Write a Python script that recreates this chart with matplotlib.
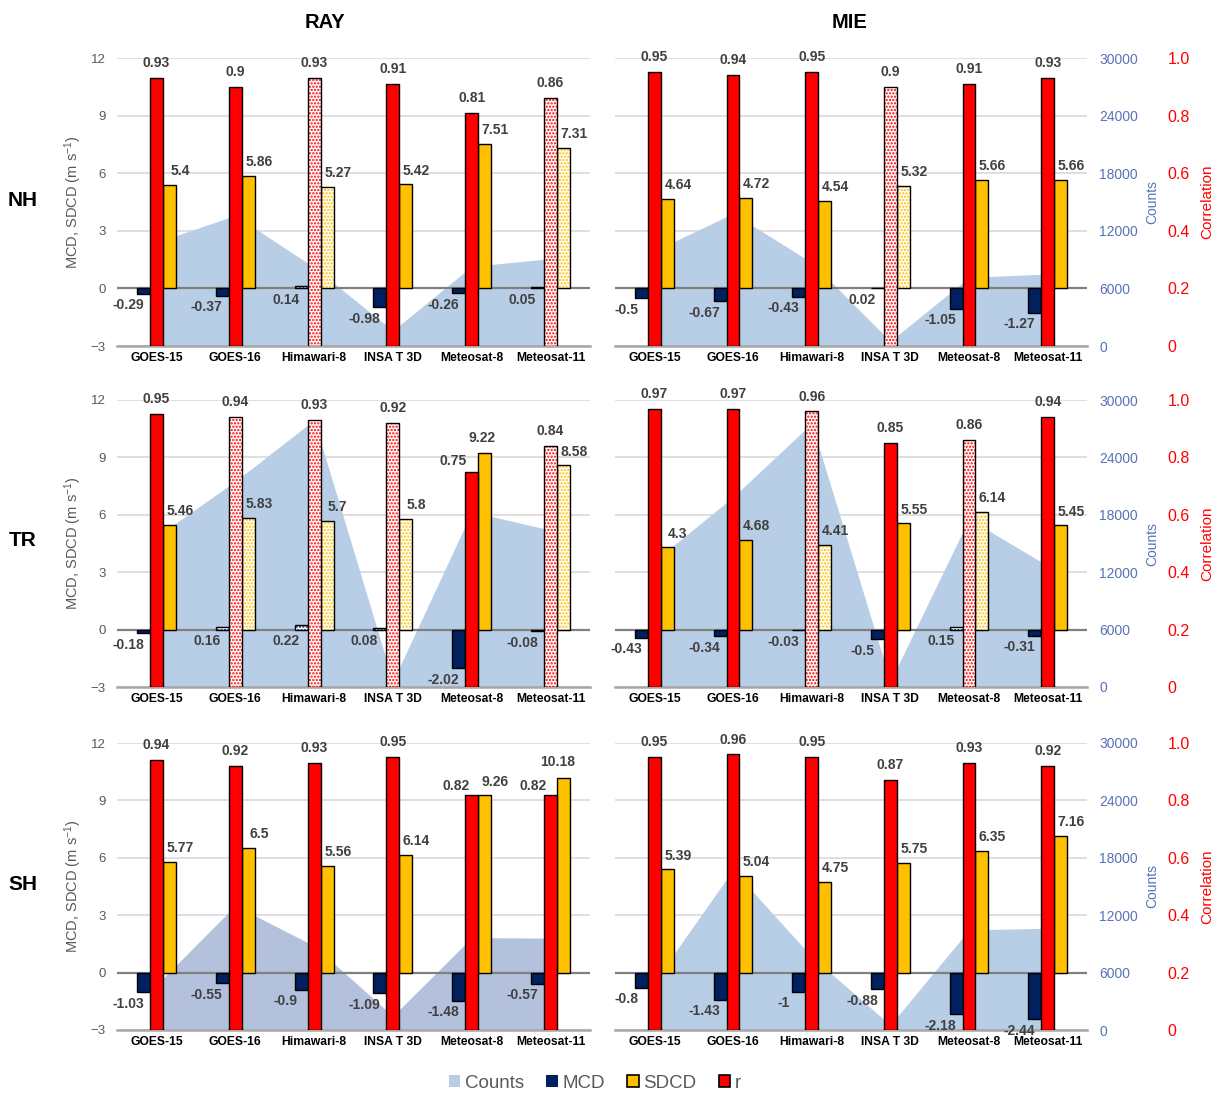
import numpy as np
import matplotlib
matplotlib.use("Agg")
import matplotlib.pyplot as plt
from matplotlib.patches import Patch

plt.rcParams['font.family'] = ['Liberation Sans', 'DejaVu Sans']
plt.rcParams['mathtext.default'] = 'regular'
plt.rcParams['hatch.linewidth'] = 1.1

sats = ['GOES-15', 'GOES-16', 'Himawari-8', 'INSA T 3D', 'Meteosat-8', 'Meteosat-11']

# RAY
ray_nh_mcd = [-0.29, -0.37, 0.14, -0.98, -0.26, 0.05]
ray_nh_sdcd = [5.4, 5.86, 5.27, 5.42, 7.51, 7.31]
ray_nh_r = [0.93, 0.9, 0.93, 0.91, 0.81, 0.86]
ray_nh_counts = [10800, 13600, 8200, 1600, 8300, 9100]
ray_nh_nonsig = [0, 0, 1, 0, 0, 1]

ray_tr_mcd = [-0.18, 0.16, 0.22, 0.08, -2.02, -0.08]
ray_tr_sdcd = [5.46, 5.83, 5.7, 5.8, 9.22, 8.58]
ray_tr_r = [0.95, 0.94, 0.93, 0.92, 0.75, 0.84]
ray_tr_counts = [15700, 21500, 27900, 600, 18300, 16400]
ray_tr_nonsig = [0, 1, 1, 1, 0, 1]

ray_sh_mcd = [-1.03, -0.55, -0.9, -1.09, -1.48, -0.57]
ray_sh_sdcd = [5.77, 6.5, 5.56, 6.14, 9.26, 10.18]
ray_sh_r = [0.94, 0.92, 0.93, 0.95, 0.82, 0.82]
ray_sh_counts = [4700, 13000, 8800, 1460, 9660, 9600]
ray_sh_nonsig = [0, 0, 0, 0, 0, 0]

# MIE
mie_nh_mcd = [-0.5, -0.67, -0.43, 0.02, -1.05, -1.27]
mie_nh_sdcd = [4.64, 4.72, 4.54, 5.32, 5.66, 5.66]
mie_nh_r = [0.95, 0.94, 0.95, 0.9, 0.91, 0.93]
mie_nh_counts = [9900, 13800, 8700, 500, 7150, 7500]
mie_nh_nonsig = [0, 0, 0, 1, 0, 0]

mie_tr_mcd = [-0.43, -0.34, -0.03, -0.5, 0.15, -0.31]
mie_tr_sdcd = [4.3, 4.68, 4.41, 5.55, 6.14, 5.45]
mie_tr_r = [0.97, 0.97, 0.96, 0.85, 0.86, 0.94]
mie_tr_counts = [13150, 19850, 27550, 600, 17570, 12670]
mie_tr_nonsig = [0, 0, 1, 0, 1, 0]

mie_sh_mcd = [-0.8, -1.43, -1, -0.88, -2.18, -2.44]
mie_sh_sdcd = [5.39, 5.04, 4.75, 5.75, 6.35, 7.16]
mie_sh_r = [0.95, 0.96, 0.95, 0.87, 0.93, 0.92]
mie_sh_counts = [5040, 16740, 7670, 520, 10460, 10640]
mie_sh_nonsig = [0, 0, 0, 0, 0, 0]

NAVY = '#002060'
YELLOW = '#FFC000'
RED = '#FF0000'
AREA = '#b8cde6'
BLUE_TXT = '#5573b5'
LBL = '#404040'
W = 0.165

# hand-placed labels (dx in categories, dy in MCD units)
nudges = {
    ('RAY', 'TR', 'r', 4): (-0.24, 0.55),
    ('RAY', 'TR', 'sdcd', 4): (0.13, 0.78),
    ('RAY', 'SH', 'r', 4): (-0.2, 0.47),
    ('RAY', 'SH', 'r', 5): (-0.22, 0.47),
    ('RAY', 'SH', 'sdcd', 5): (0.09, 0.82),
}

fig = plt.figure(figsize=(12.15, 10.95), dpi=100)
H = 1095.0


def draw_bars(axis, xs, vals, color, nonsig):
    for xi, v, ns in zip(xs, vals, nonsig):
        if ns:
            axis.bar(xi, v, W, color='white', edgecolor=color, hatch='.....', lw=0, zorder=3)
            axis.bar(xi, v, W, fill=False, edgecolor='black', lw=1.0, zorder=4)
        else:
            axis.bar(xi, v, W, color=color, edgecolor='black', lw=1.0, zorder=3)


def panel(rect, method, region, mcd, sdcd, r, counts, nonsig, right_side, area_color):
    axc = fig.add_axes(rect)
    ax = axc.twinx()
    axr = axc.twinx()
    x = np.arange(len(sats))

    # counts area, behind everything
    axc.fill_between(x, 0, counts, color=area_color, lw=0, zorder=1)
    axc.set_xlim(-0.5, 5.5)
    axc.set_ylim(0, 30000)
    axc.set_yticks(np.arange(0, 30001, 6000))
    axc.set_axisbelow(True)
    axc.grid(axis='y', color='#d9d9d9', lw=1.2)
    axc.set_xticks(x)
    axc.set_xticklabels(sats, fontsize=8.7, fontweight='bold', color='black')
    axc.tick_params(axis='x', length=0, pad=4)

    ax.set_ylim(-3, 12)
    axr.set_ylim(0, 1)
    for a in (axc, ax, axr):
        for s in a.spines.values():
            s.set_visible(False)
    axc.spines['bottom'].set_visible(True)
    axc.spines['bottom'].set_color('#a6a6a6')
    axc.spines['bottom'].set_linewidth(1.8)

    ax.axhline(0, color='#808080', lw=1.6, zorder=2)

    draw_bars(ax, x - W, mcd, NAVY, nonsig)
    draw_bars(axr, x, r, RED, nonsig)
    draw_bars(ax, x + W, sdcd, YELLOW, nonsig)

    kw = dict(fontsize=10, fontweight='bold', color=LBL, ha='center', va='center', zorder=6)
    for i in x:
        dx, dy = nudges.get((method, region, 'r', i), (0.0, 0.78))
        axr.text(i + dx, r[i] + dy / 15.0, f"{r[i]:g}", **kw)
        dx, dy = nudges.get((method, region, 'sdcd', i), (0.3, 0.72))
        ax.text(i + dx, sdcd[i] + dy, f"{sdcd[i]:g}", **kw)
        ax.text(i - 0.36, min(mcd[i], 0) - 0.6, f"{mcd[i]:g}", **kw)

    if right_side:
        ax.set_yticks([])
        axc.yaxis.tick_right()
        axc.set_yticklabels([f"{v:d}" for v in range(0, 30001, 6000)])
        axc.tick_params(axis='y', length=0, pad=9, labelsize=10, labelcolor=BLUE_TXT,
                        labelleft=False, labelright=True)
        axc.yaxis.set_label_position('right')
        axc.set_ylabel('Counts', color=BLUE_TXT, fontsize=10, rotation=90, va='center', ha='center')
        axc.yaxis.set_label_coords(537 / 472, 0.5)
        axr.set_yticks(np.arange(0, 1.01, 0.2))
        axr.set_yticklabels(['0', '0.2', '0.4', '0.6', '0.8', '1.0'])
        axr.tick_params(axis='y', length=0, pad=58, labelsize=11.5, labelcolor=RED)
        axr.set_ylabel('Correlation', color=RED, fontsize=11, rotation=90, va='center', ha='center')
        axr.yaxis.set_label_coords(592 / 472, 0.5)
    else:
        axc.tick_params(axis='y', length=0, labelleft=False, labelright=False)
        axr.set_yticks([])
        ax.yaxis.tick_left()
        ax.set_yticks(np.arange(-3, 12.1, 3))
        ax.tick_params(axis='y', length=0, pad=8, labelsize=9.5, labelcolor='#595959')
        ax.yaxis.set_label_position('left')
        ax.set_ylabel('MCD, SDCD (m s$^{-1}$)', fontsize=10.5, color='#595959', va='center', ha='center')
        ax.yaxis.set_label_coords(-44 / 473, 0.5)


rows = [(58, 346), (400, 687), (743, 1030)]
left_x, left_w = 117 / 1215, 473 / 1215
right_x, right_w = 615 / 1215, 472 / 1215

panels = [
    ('RAY', 'NH', ray_nh_mcd, ray_nh_sdcd, ray_nh_r, ray_nh_counts, ray_nh_nonsig),
    ('MIE', 'NH', mie_nh_mcd, mie_nh_sdcd, mie_nh_r, mie_nh_counts, mie_nh_nonsig),
    ('RAY', 'TR', ray_tr_mcd, ray_tr_sdcd, ray_tr_r, ray_tr_counts, ray_tr_nonsig),
    ('MIE', 'TR', mie_tr_mcd, mie_tr_sdcd, mie_tr_r, mie_tr_counts, mie_tr_nonsig),
    ('RAY', 'SH', ray_sh_mcd, ray_sh_sdcd, ray_sh_r, ray_sh_counts, ray_sh_nonsig),
    ('MIE', 'SH', mie_sh_mcd, mie_sh_sdcd, mie_sh_r, mie_sh_counts, mie_sh_nonsig),
]

for k, (method, region, mcd, sdcd, r, counts, ns) in enumerate(panels):
    top, bot = rows[k // 2]
    rect_y = 1 - bot / H
    rect_h = (bot - top) / H
    if method == 'RAY':
        rect = [left_x, rect_y, left_w, rect_h]
    else:
        rect = [right_x, rect_y, right_w, rect_h]
    color = '#b4c1dc' if (method, region) == ('RAY', 'SH') else AREA
    panel(rect, method, region, mcd, sdcd, r, counts, ns, method == 'MIE', color)

fig.text(325 / 1215, 1 - 22 / H, 'RAY', ha='center', va='center', fontsize=14.5, fontweight='bold')
fig.text(850 / 1215, 1 - 22 / H, 'MIE', ha='center', va='center', fontsize=14.5, fontweight='bold')
for name, yy in [('NH', 200), ('TR', 541), ('SH', 884)]:
    fig.text(23 / 1215, 1 - yy / H, name, ha='center', va='center', fontsize=15, fontweight='bold')

handles = [
    Patch(facecolor=AREA, edgecolor='none', label='Counts'),
    Patch(facecolor=NAVY, edgecolor='none', label='MCD'),
    Patch(facecolor=YELLOW, edgecolor='black', lw=1.2, label='SDCD'),
    Patch(facecolor=RED, edgecolor='black', lw=1.2, label='r'),
]
fig.legend(handles=handles, loc='center', bbox_to_anchor=(595 / 1215, 1 - 1083 / H), ncol=4,
           frameon=False, fontsize=13.5, handlelength=0.6, handleheight=0.6,
           handletextpad=0.25, columnspacing=1.2, labelcolor='#595959')

fig.savefig('out.png', dpi=100)
